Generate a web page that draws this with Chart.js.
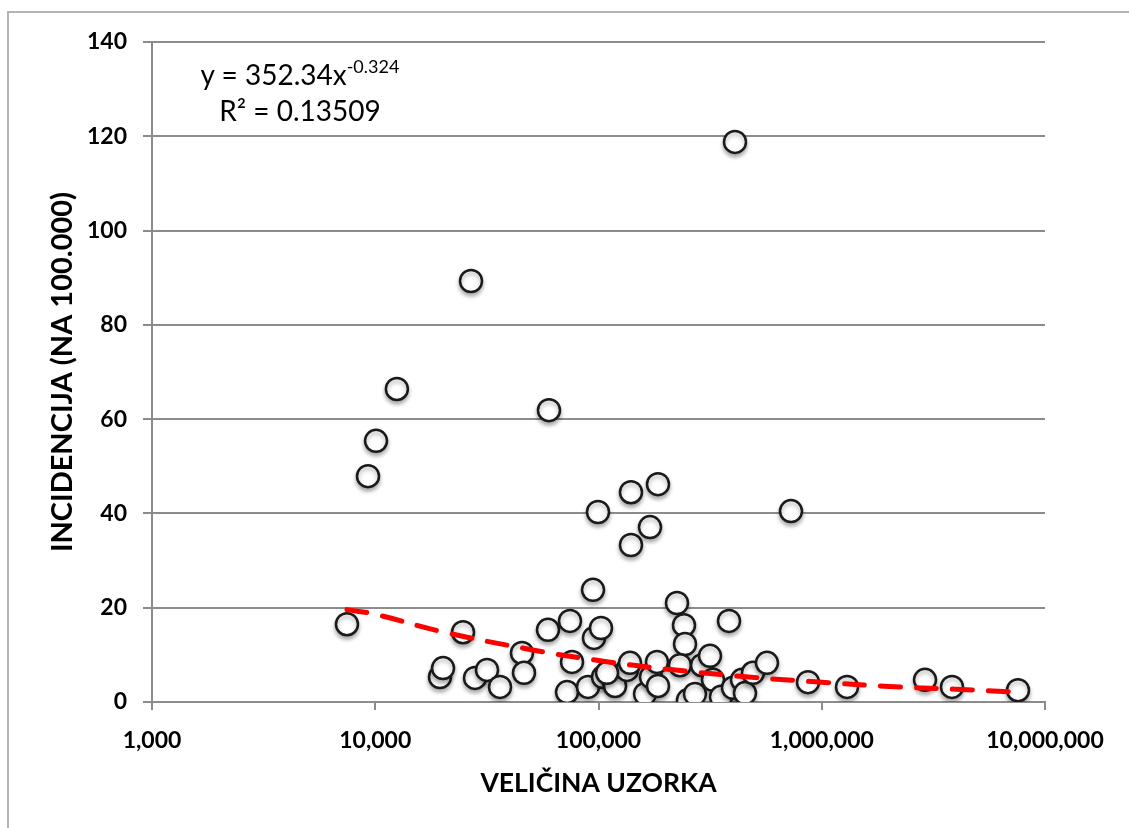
<!DOCTYPE html>
<html>
<head>
<meta charset="utf-8">
<script src="https://cdn.jsdelivr.net/npm/chart.js@4/dist/chart.umd.min.js"></script>
<style>
  html, body { margin: 0; padding: 0; background: #fff; overflow: hidden; }
  #wrap { position: relative; width: 1129px; height: 828px; }
  #frame { position: absolute; left: 7px; top: 11px; width: 1200px; height: 900px;
           border-left: 2px solid #b4b4b4; border-top: 2px solid #b4b4b4; }
  #chart { position: absolute; left: 0; top: 0; }
  .eq { position: absolute; left: 150px; width: 300px; text-align: center;
        font-family: Lato, sans-serif; font-size: 28px; color: #000; line-height: 32px; }
  .eq sup { font-size: 18px; vertical-align: 0; position: relative; top: -12px; }
</style>
</head>
<body>
<div id="wrap">
  <div id="frame"></div>
  <canvas id="chart" width="1129" height="828"></canvas>
  <div class="eq" style="top:58px">y = 352.34x<sup>-0.324</sup></div>
  <div class="eq" style="top:94px">R² = 0.13509</div>
</div>
<script>
// sample size (x) and incidence per 100.000 (y)
const sampleSize = [
  7470, 9280, 10080, 12500, 26850, 24720, 19500, 20120, 27980, 31670,
  36220, 45420, 46370, 60000, 59390, 74520, 76090, 72280, 89740, 94500,
  95460, 99490, 102600, 104800, 116100, 118600, 134200, 138400, 139800, 139800,
  161600, 170100, 171900, 182800, 184700, 184700, 224700, 241500, 244100, 251700,
  231700, 270500, 290800, 315800, 325700, 353800, 384200, 408700, 400300, 439300,
  453100, 492000, 568400, 728200, 867700, 1297900, 2901000, 3831000, 7568000, 109200
];
const incidence = [
  16.5, 47.9, 55.4, 66.4, 89.3, 14.8, 5.3, 7.2, 5.1, 6.8,
  3.2, 10.4, 6.2, 61.9, 15.3, 17.2, 8.5, 2.1, 3.2, 23.8,
  13.6, 40.3, 15.7, 5.3, 4.7, 3.4, 6.8, 8.3, 44.5, 33.3,
  1.7, 37.1, 5.3, 8.5, 46.2, 3.4, 21.0, 16.3, 12.3, 0.4,
  7.8, 1.7, 7.8, 9.8, 4.7, 1.1, 17.2, 118.8, 3.0, 4.7,
  1.9, 6.2, 8.3, 40.5, 4.2, 3.2, 4.7, 3.2, 2.5, 6.2
];

// power trendline as drawn (red dashes), read at a few x positions
const trendX = [7470, 10000, 20000, 50000, 100000, 200000, 500000, 1000000, 2000000, 4000000, 7570000];
const trendY = [19.6, 18.6, 14.9, 11.1, 8.8, 7.0, 5.2, 4.2, 3.3, 2.7, 2.1];

const xTicks = [1000, 10000, 100000, 1000000, 10000000];
const yTicks = [0, 20, 40, 60, 80, 100, 120, 140];

const gridGray = "#8c8c8c";

const shadowPlugin = {
  id: "markerShadow",
  beforeDatasetDraw(chart, args) {
    if (args.index !== 0) return;
    const ctx = chart.ctx;
    ctx.save();
    ctx.shadowColor = "rgba(0,0,0,0.3)";
    ctx.shadowBlur = 4;
    ctx.shadowOffsetY = 3;
  },
  afterDatasetDraw(chart, args) {
    if (args.index !== 0) return;
    chart.ctx.restore();
  }
};

new Chart(document.getElementById("chart"), {
  type: "scatter",
  data: {
    datasets: [
      {
        label: "Incidencija",
        data: sampleSize.map((x, i) => ({ x: x, y: incidence[i] })),
        pointRadius: 11,
        pointHoverRadius: 11,
        pointBackgroundColor: "#ffffff",
        pointBorderColor: "#1a1a1a",
        pointBorderWidth: 2.5,
        order: 1
      },
      {
        label: "Trend",
        type: "line",
        data: trendX.map((x, i) => ({ x: x, y: trendY[i] })),
        borderColor: "#ff0000",
        borderWidth: 5,
        borderDash: [20, 16],
        borderCapStyle: "round",
        pointRadius: 0,
        tension: 0.4,
        fill: false,
        order: 0
      }
    ]
  },
  options: {
    responsive: false,
    animation: false,
    events: [],
    layout: { padding: { left: 0, top: 42, right: 84, bottom: 0 } },
    plugins: { legend: { display: false }, tooltip: { enabled: false } },
    scales: {
      x: {
        type: "logarithmic",
        min: 1000,
        max: 10000000,
        afterBuildTicks: s => { s.ticks = xTicks.map(v => ({ value: v })); },
        afterFit: s => { s.height = 126; },
        grid: { drawOnChartArea: false, drawTicks: true, tickLength: 8, color: gridGray, lineWidth: 2 },
        border: { color: gridGray, width: 2 },
        ticks: {
          color: "#000",
          padding: 17,
          maxRotation: 0,
          autoSkip: false,
          font: { family: "Lato", size: 23, weight: "bold" },
          callback: v => v.toLocaleString("en-US")
        },
        title: {
          display: true,
          text: "VELIČINA UZORKA",
          color: "#000",
          font: { family: "Lato", size: 26.5, weight: "bold" },
          padding: { top: 0, bottom: 29 }
        }
      },
      y: {
        min: 0,
        max: 140,
        afterBuildTicks: s => { s.ticks = yTicks.map(v => ({ value: v })); },
        afterFit: s => { s.width = 152; },
        grid: { color: gridGray, lineWidth: 2, tickLength: 9 },
        border: { color: gridGray, width: 2 },
        ticks: {
          color: "#000",
          padding: 16,
          font: { family: "Lato", size: 23, weight: "bold" }
        },
        title: {
          display: true,
          text: "INCIDENCIJA (NA 100.000)",
          color: "#000",
          font: { family: "Lato", size: 29, weight: "bold" },
          padding: { top: 45, bottom: 0 }
        }
      }
    }
  },
  plugins: [shadowPlugin]
});
</script>
</body>
</html>
